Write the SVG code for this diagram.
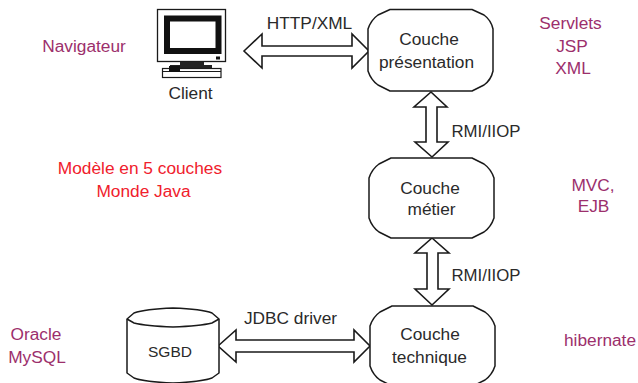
<svg xmlns="http://www.w3.org/2000/svg" width="638" height="383" viewBox="0 0 638 383">
<style>
text{font-family:"Liberation Sans",Arial,sans-serif;font-size:17.3px;fill:#2a2a2a;text-anchor:middle}
.p{fill:#9c2f6c}
.r{fill:#f0202c}
.b{fill:#fff;stroke:#1a1a1a;stroke-width:1.5;stroke-linejoin:round}
.a{fill:#fff;stroke:#1a1a1a;stroke-width:1.6;stroke-linejoin:miter}
</style>
<defs>
<path id="box" class="b" d="M22 0H103L115 6Q122 11 125 20V60Q122 69 115 74L103 80H22L10 74Q3 69 0 60V20Q3 11 10 6Z"/>
</defs>
<rect width="638" height="383" fill="#fff"/>
<g id="connectors">
<path class="a" id="c1" d="M244 51L262 34V46H352V34L369 51L352 68V56H262V68Z"/>
<path class="a" id="c2" d="M431 92L447 107H437V142H448L432 157L415 142H426V107H414Z"/>
<path class="a" id="c3" d="M432 238L449 253H438V289H449L432 305L415 289H427V253H415Z"/>
<path class="a" id="c4" d="M218 346L236 330V340H354V330L370 346L354 362V352H236V362Z"/>
</g>
<g id="client">
<rect x="157.500" y="9.500" width="68" height="52" fill="#fff" stroke="#1a1a1a" stroke-width="1.3"/>
<rect x="167" y="18.500" width="51.500" height="32.500" fill="#fff" stroke="#111" stroke-width="6"/>
<rect x="216" y="56.500" width="4" height="3" fill="#111"/>
<path d="M180 62H204V65H212V68H170V65H180Z" fill="#222"/>
<rect x="162.500" y="68.500" width="58.500" height="9" fill="#fff" stroke="#1a1a1a" stroke-width="1.2"/>
<path d="M163 71.500H221" stroke="#1a1a1a" stroke-width="1"/>
<rect x="169" y="66" width="11" height="6" fill="#111"/>
<text x="190.500" y="99">Client</text>
</g>
<g id="presentation">
<path class="b" d="M390 9.500H472L484 15Q491 20 493 29V71Q491 80 484 85L472 91H390L378 85Q371 80 368 71V29Q371 20 378 15Z"/>
<text x="429" y="45">Couche</text>
<text x="426.500" y="68">présentation</text>
</g>
<g id="metier">
<use href="#box" x="369" y="158"/>
<text x="430" y="194">Couche</text>
<text x="431.500" y="215">métier</text>
</g>
<g id="technique">
<use href="#box" x="370" y="306"/>
<text x="430" y="340">Couche</text>
<text x="429.500" y="363">technique</text>
</g>
<g id="sgbd">
<path class="b" d="M127 319L134 313Q145 309 173 308Q202 309 212 313L219 319V373L212 378Q200 382 173 383Q145 382 134 378L127 373Z"/>
<path fill="none" stroke="#1a1a1a" stroke-width="1.500" d="M127 319L134 323Q146 326 173 327Q200 326 212 323L219 319"/>
<text x="170" y="357" style="font-size:15.500px">SGBD</text>
</g>
<g id="labels">
<text x="309.500" y="29">HTTP/XML</text>
<text x="486" y="137" style="font-size:16.800px">RMI/IIOP</text>
<text x="486" y="281" style="font-size:16.800px">RMI/IIOP</text>
<text x="290.500" y="324">JDBC driver</text>
<text class="p" x="84" y="52">Navigateur</text>
<text class="p" x="570.500" y="29">Servlets</text>
<text class="p" x="572" y="52">JSP</text>
<text class="p" x="573" y="74">XML</text>
<text class="r" x="140" y="174">Modèle en 5 couches</text>
<text class="r" x="143.500" y="197">Monde Java</text>
<text class="p" x="593" y="191">MVC,</text>
<text class="p" x="593.500" y="212">EJB</text>
<text class="p" x="600" y="346">hibernate</text>
<text class="p" x="36" y="340">Oracle</text>
<text class="p" x="37" y="363">MySQL</text>
</g>
</svg>
